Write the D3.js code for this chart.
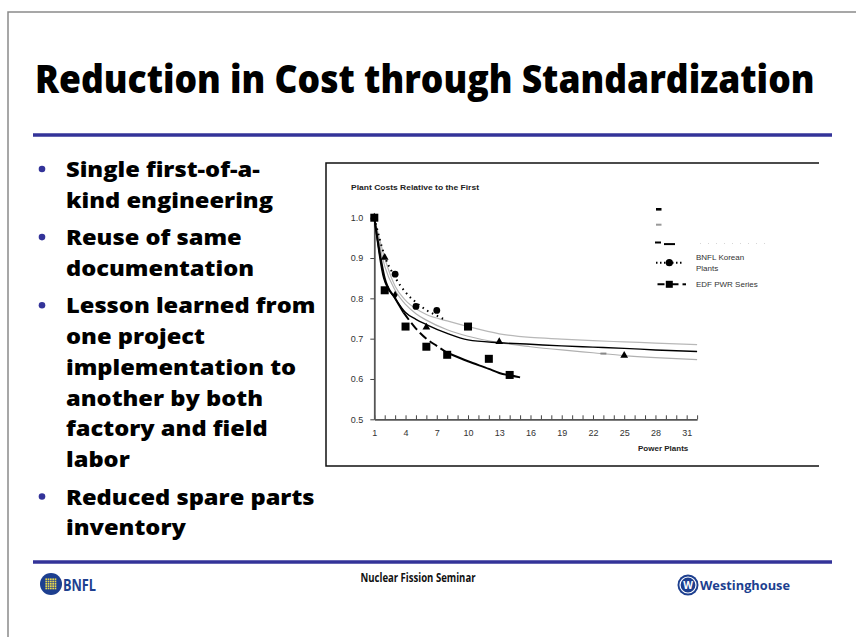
<!DOCTYPE html>
<html>
<head>
<meta charset="utf-8">
<script src="https://cdn.jsdelivr.net/npm/d3@7"></script>
<style>
body { margin: 0; background: #fff; }
</style>
</head>
<body>
<div id="chartDiv"></div>
<script>
// ---- slide text ----
var slideTitle = "Reduction in Cost through Standardization";
var bulletLines = [
    ["Single first-of-a-", "kind engineering"],
    ["Reuse of same", "documentation"],
    ["Lesson learned from", "one project", "implementation to", "another by both", "factory and field", "labor"],
    ["Reduced spare parts", "inventory"]
];
var footerText = "Nuclear Fission Seminar";

// ---- chart text ----
var chartTitle = "Plant Costs Relative to the First";
var xAxisLabel = "Power Plants";
var yTicks = [0.5, 0.6, 0.7, 0.8, 0.9, 1.0];
var xTicks = d3.range(1, 33);
var xTickLabels = [1, 4, 7, 10, 13, 16, 19, 22, 25, 28, 31];
var legendNames = ["", "", "", "BNFL Korean Plants", "EDF PWR Series"];

// ---- series ----
var edfPlants = [1, 2, 4, 6, 8, 10, 12, 14];
var edfCost = [1.0, 0.82, 0.73, 0.68, 0.66, 0.73, 0.65, 0.61];
var edfFitPlants = [1, 2, 3, 3.8, 5, 6, 7, 8, 10, 12, 13, 14, 15];
var edfFitCost = [1.0, 0.85, 0.80, 0.765, 0.725, 0.70, 0.682, 0.665, 0.644, 0.625, 0.615, 0.609, 0.604];

var koreanPlants = [1, 3, 5, 7];
var koreanCost = [1.0, 0.86, 0.78, 0.77];
var koreanFitPlants = [1, 2, 3, 4, 5, 6, 7, 7.8];
var koreanFitCost = [1.0, 0.905, 0.852, 0.815, 0.79, 0.771, 0.757, 0.747];

var triPlants = [1, 2, 6, 13, 25];
var triCost = [1.0, 0.90, 0.727, 0.691, 0.657];
var diamondPlants = [3];
var diamondCost = [0.808];
var grayDashPlants = [23];
var grayDashCost = [0.663];

var blackFitPlants = [1, 1.9, 3, 4, 5, 6, 8, 10, 13, 16, 19, 22, 25, 28, 32];
var blackFitCost = [1.0, 0.85, 0.80, 0.765, 0.748, 0.735, 0.713, 0.697, 0.690, 0.686, 0.682, 0.679, 0.676, 0.672, 0.668];
var lowGrayPlants = [1, 2, 3, 4, 5, 6, 8, 10, 13, 16, 19, 22, 25, 28, 32];
var lowGrayCost = [1.0, 0.88, 0.82, 0.785, 0.762, 0.746, 0.722, 0.706, 0.690, 0.680, 0.672, 0.665, 0.658, 0.653, 0.648];
var highGrayPlants = [1, 2, 3, 4, 5, 6, 8, 10, 13, 16, 19, 22, 25, 28, 32];
var highGrayCost = [1.0, 0.90, 0.83, 0.795, 0.774, 0.760, 0.744, 0.730, 0.712, 0.703, 0.699, 0.695, 0.692, 0.689, 0.685];

var blue = "#333399";
var logoBlue = "#1d3f8f";

function zip(a, b) {
    return a.map(function(v, i) { return { x: v, y: b[i] }; });
}

var svg = d3.select("#chartDiv").append("svg")
    .attr("width", 856)
    .attr("height", 637);

svg.append("rect").attr("width", 856).attr("height", 637).attr("fill", "#fff");

// slide frame
svg.append("path")
    .attr("d", "M8,637 V12 H856")
    .attr("fill", "none")
    .attr("stroke", "#8a8a8a")
    .attr("stroke-width", 1.5);

// title: drawn at natural size, then squeezed to the reference width
var titleText = svg.append("text")
    .attr("font-family", "Open Sans")
    .attr("font-weight", 800)
    .attr("font-size", 39)
    .attr("fill", "#000")
    .text(slideTitle);
var titleW = titleText.node().getComputedTextLength();
titleText.attr("transform", "translate(35,93) scale(" + (780 / titleW) + ",1)");

// rules
[135, 562].forEach(function(yy) {
    svg.append("line")
        .attr("x1", 33).attr("x2", 832)
        .attr("y1", yy).attr("y2", yy)
        .attr("stroke", blue)
        .attr("stroke-width", 3.5);
});

// bullets (widened a little to match the heavier original face)
var lineY = 177;
bulletLines.forEach(function(lines) {
    svg.append("circle")
        .attr("cx", 42).attr("cy", lineY - 8)
        .attr("r", 3.3)
        .attr("fill", blue);
    lines.forEach(function(l) {
        var t = svg.append("text")
            .attr("x", 66).attr("y", lineY)
            .attr("font-family", "Open Sans")
            .attr("font-weight", 800)
            .attr("font-size", 21.5)
            .attr("fill", "#000")
            .text(l);
        var w = t.node().getComputedTextLength();
        t.attr("textLength", w * 1.1).attr("lengthAdjust", "spacingAndGlyphs");
        lineY += 30.8;
    });
    lineY += 6.5;
});

// ---- chart ----
var chartBox = { left: 326, top: 163, right: 819, bottom: 466 };
svg.append("path")
    .attr("d", "M" + chartBox.right + "," + chartBox.top + " H" + chartBox.left + " V" + chartBox.bottom + " H" + chartBox.right)
    .attr("fill", "none")
    .attr("stroke", "#111")
    .attr("stroke-width", 1.5);

var x = d3.scaleLinear().domain([1, 32]).range([374.3, 697.1]);
var y = d3.scaleLinear().domain([0.5, 1.0]).range([419.3, 217.7]);

svg.append("text")
    .attr("x", 351).attr("y", 190)
    .attr("font-family", "Liberation Sans, Arial")
    .attr("font-weight", 700)
    .attr("font-size", 7.5)
    .attr("textLength", 128)
    .attr("lengthAdjust", "spacingAndGlyphs")
    .attr("fill", "#222")
    .text(chartTitle);

var xAxis = d3.axisBottom(x)
    .tickValues(xTicks)
    .tickSize(-4)
    .tickSizeOuter(0)
    .tickPadding(10)
    .tickFormat(function(d) { return xTickLabels.indexOf(d) >= 0 ? d : ""; });

var xg = svg.append("g")
    .attr("transform", "translate(0," + y(0.5) + ")")
    .call(xAxis);

var yAxis = d3.axisLeft(y)
    .tickValues(yTicks)
    .tickSize(4)
    .tickSizeOuter(0)
    .tickPadding(7)
    .tickFormat(d3.format(".1f"));

var yg = svg.append("g")
    .attr("transform", "translate(" + x(1) + ",0)")
    .call(yAxis);

[xg, yg].forEach(function(g) {
    g.select(".domain").attr("stroke", "#555").attr("stroke-width", 1.8);
    g.selectAll(".tick line").attr("stroke", "#444").attr("stroke-width", 1);
    g.selectAll(".tick text")
        .attr("font-family", "Liberation Sans, Arial")
        .attr("font-size", 9)
        .attr("fill", "#333");
});

svg.append("text")
    .attr("x", 638).attr("y", 451)
    .attr("font-family", "Liberation Sans, Arial")
    .attr("font-weight", 700)
    .attr("font-size", 8)
    .attr("fill", "#222")
    .text(xAxisLabel);

var line = d3.line()
    .x(function(d) { return x(d.x); })
    .y(function(d) { return y(d.y); })
    .curve(d3.curveMonotoneX);

var plot = svg.append("g");

// trend lines
plot.append("path").datum(zip(highGrayPlants, highGrayCost))
    .attr("d", line).attr("fill", "none")
    .attr("stroke", "#b8b8b8").attr("stroke-width", 1.2);
plot.append("path").datum(zip(lowGrayPlants, lowGrayCost))
    .attr("d", line).attr("fill", "none")
    .attr("stroke", "#b0b0b0").attr("stroke-width", 1.2);
plot.append("path").datum(zip(blackFitPlants, blackFitCost))
    .attr("d", line).attr("fill", "none")
    .attr("stroke", "#000").attr("stroke-width", 1.4);
plot.append("path").datum(zip(koreanFitPlants, koreanFitCost))
    .attr("d", line).attr("fill", "none")
    .attr("stroke", "#000").attr("stroke-width", 2)
    .attr("stroke-dasharray", "1.5,4");

// EDF fit: solid start, dashed middle, solid tail
var edfFit = zip(edfFitPlants, edfFitCost);
plot.append("path").datum(edfFit.filter(function(d) { return d.x <= 3.8; }))
    .attr("d", line).attr("fill", "none")
    .attr("stroke", "#000").attr("stroke-width", 2);
plot.append("path").datum(edfFit.filter(function(d) { return d.x >= 3.8 && d.x <= 8; }))
    .attr("d", line).attr("fill", "none")
    .attr("stroke", "#000").attr("stroke-width", 2)
    .attr("stroke-dasharray", "9,4");
plot.append("path").datum(edfFit.filter(function(d) { return d.x >= 8; }))
    .attr("d", line).attr("fill", "none")
    .attr("stroke", "#000").attr("stroke-width", 2);

// markers
var tri = d3.symbol().type(d3.symbolTriangle).size(26);
plot.selectAll(".tri").data(zip(triPlants, triCost)).enter().append("path")
    .attr("class", "tri")
    .attr("d", tri)
    .attr("transform", function(d) { return "translate(" + x(d.x) + "," + (y(d.y) - 0.5) + ")"; })
    .attr("fill", "#000");

var dia = d3.symbol().type(d3.symbolDiamond).size(22);
plot.selectAll(".dia").data(zip(diamondPlants, diamondCost)).enter().append("path")
    .attr("class", "dia")
    .attr("d", dia)
    .attr("transform", function(d) { return "translate(" + x(d.x) + "," + y(d.y) + ")"; })
    .attr("fill", "#000");

plot.selectAll(".gdash").data(zip(grayDashPlants, grayDashCost)).enter().append("rect")
    .attr("class", "gdash")
    .attr("x", function(d) { return x(d.x) - 3; })
    .attr("y", function(d) { return y(d.y) - 1; })
    .attr("width", 6).attr("height", 2)
    .attr("fill", "#888");

plot.selectAll(".dot").data(zip(koreanPlants, koreanCost)).enter().append("circle")
    .attr("class", "dot")
    .attr("cx", function(d) { return x(d.x); })
    .attr("cy", function(d) { return y(d.y); })
    .attr("r", 3.4)
    .attr("fill", "#000");

plot.selectAll(".sq").data(zip(edfPlants, edfCost)).enter().append("rect")
    .attr("class", "sq")
    .attr("x", function(d) { return x(d.x) - 4; })
    .attr("y", function(d) { return y(d.y) - 4; })
    .attr("width", 8).attr("height", 8)
    .attr("fill", "#000");

// ---- legend ----
var lg = svg.append("g").attr("font-family", "Liberation Sans, Arial").attr("font-size", 8).attr("fill", "#333");
var legendY = [209.3, 224.7, 243.5, 262.7, 284.3];

lg.append("rect").attr("x", 656).attr("y", legendY[0] - 1.3).attr("width", 5.5).attr("height", 2.6).attr("fill", "#000");
lg.append("rect").attr("x", 656).attr("y", legendY[1] - 1).attr("width", 5.5).attr("height", 2).attr("fill", "#999");
lg.append("line").attr("x1", 655).attr("x2", 661).attr("y1", legendY[2] - 1).attr("y2", legendY[2] - 1).attr("stroke", "#000").attr("stroke-width", 2);
lg.append("line").attr("x1", 664).attr("x2", 675).attr("y1", legendY[2] + 0.6).attr("y2", legendY[2] + 0.6).attr("stroke", "#000").attr("stroke-width", 2);
lg.append("line").attr("x1", 700).attr("x2", 769).attr("y1", legendY[2]).attr("y2", legendY[2]).attr("stroke", "#ccc").attr("stroke-width", 0.8).attr("stroke-dasharray", "1,7");

lg.append("line").attr("x1", 656).attr("x2", 684).attr("y1", legendY[3]).attr("y2", legendY[3])
    .attr("stroke", "#000").attr("stroke-width", 2).attr("stroke-dasharray", "1.5,2.5");
lg.append("circle").attr("cx", 669.3).attr("cy", legendY[3]).attr("r", 3.6).attr("fill", "#000");
var nm = legendNames[3].split(" ");
lg.append("text").attr("x", 696).attr("y", legendY[3] - 3).text(nm[0] + " " + nm[1]);
lg.append("text").attr("x", 696).attr("y", legendY[3] + 8.5).text(nm[2]);

lg.append("line").attr("x1", 657.5).attr("x2", 678.5).attr("y1", legendY[4]).attr("y2", legendY[4])
    .attr("stroke", "#000").attr("stroke-width", 2).attr("stroke-dasharray", "7,3,4,0");
lg.append("line").attr("x1", 682.5).attr("x2", 686).attr("y1", legendY[4]).attr("y2", legendY[4])
    .attr("stroke", "#000").attr("stroke-width", 2);
lg.append("rect").attr("x", 665.8).attr("y", legendY[4] - 3.5).attr("width", 7).attr("height", 7).attr("fill", "#000");
lg.append("text").attr("x", 696).attr("y", legendY[4] + 3).text(legendNames[4]);

// ---- footer ----
svg.append("text")
    .attr("x", 418).attr("y", 582)
    .attr("text-anchor", "middle")
    .attr("font-family", "Open Sans")
    .attr("font-weight", 700)
    .attr("font-size", 12)
    .attr("textLength", 115)
    .attr("lengthAdjust", "spacingAndGlyphs")
    .attr("fill", "#111")
    .text(footerText);

// BNFL logo
var bnfl = svg.append("g");
bnfl.append("circle").attr("cx", 51).attr("cy", 584).attr("r", 11).attr("fill", logoBlue);
d3.range(5).forEach(function(i) {
    d3.range(5).forEach(function(j) {
        bnfl.append("rect")
            .attr("x", 45.4 + i * 2.3).attr("y", 578.4 + j * 2.3)
            .attr("width", 1.7).attr("height", 1.7)
            .attr("fill", "#e8d84a");
    });
});
bnfl.append("text")
    .attr("x", 63).attr("y", 591)
    .attr("font-family", "Open Sans")
    .attr("font-weight", 700)
    .attr("font-size", 16)
    .attr("textLength", 33)
    .attr("lengthAdjust", "spacingAndGlyphs")
    .attr("fill", logoBlue)
    .text("BNFL");

// Westinghouse logo
var wh = svg.append("g");
wh.append("circle").attr("cx", 688).attr("cy", 585).attr("r", 10.5).attr("fill", logoBlue);
wh.append("circle").attr("cx", 688).attr("cy", 585).attr("r", 8).attr("fill", "none").attr("stroke", "#fff").attr("stroke-width", 1.2);
wh.append("text")
    .attr("x", 688).attr("y", 588.5)
    .attr("text-anchor", "middle")
    .attr("font-family", "Open Sans")
    .attr("font-weight", 700)
    .attr("font-size", 10)
    .attr("fill", "#fff")
    .text("W");
wh.append("text")
    .attr("x", 700).attr("y", 590)
    .attr("font-family", "Open Sans")
    .attr("font-weight", 700)
    .attr("font-size", 13)
    .attr("textLength", 90)
    .attr("lengthAdjust", "spacingAndGlyphs")
    .attr("fill", logoBlue)
    .text("Westinghouse");
</script>
</body>
</html>
